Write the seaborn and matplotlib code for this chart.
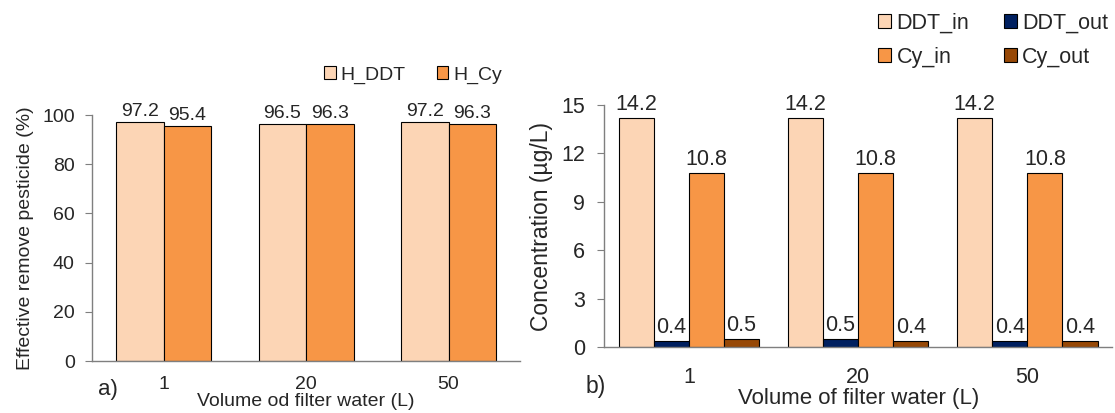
import matplotlib
matplotlib.use('Agg')
import matplotlib.pyplot as plt
import seaborn as sns
import pandas as pd

# ---- data ----
volumes = ['1', '20', '50']
h_ddt = [97.2, 96.5, 97.2]
h_cy = [95.4, 96.3, 96.3]
ddt_in = [14.2, 14.2, 14.2]
ddt_out = [0.4, 0.5, 0.4]
cy_in = [10.8, 10.8, 10.8]
cy_out = [0.5, 0.4, 0.4]
left_series = ['H_DDT', 'H_Cy']
right_series = ['DDT_in', 'DDT_out', 'Cy_in', 'Cy_out']
left_colors = ['#FCD5B5', '#F79646']
right_colors = ['#FCD5B5', '#002060', '#F79646', '#974806']

sns.set_theme(style='white')
plt.rcParams['font.family'] = ['Liberation Sans', 'DejaVu Sans']

W, H = 1115, 413
fig = plt.figure(figsize=(W / 100, H / 100), dpi=100)

def px_axes(x0, x1, ytop, ybot):
    return fig.add_axes([x0 / W, 1 - ybot / H, (x1 - x0) / W, (ybot - ytop) / H])

axa = px_axes(92.3, 519.8, 115, 361)
axb = px_axes(604.3, 1112, 105, 347.3)

spine_col = '#7F7F7F'
FA = 14     # panel a font size
FB = 15.5   # panel b font size

# ---- panel a ----
dfa = pd.DataFrame({
    'Volume': volumes * 2,
    'Value': h_ddt + h_cy,
    'Series': [left_series[0]] * 3 + [left_series[1]] * 3,
})
sns.barplot(data=dfa, x='Volume', y='Value', hue='Series', hue_order=left_series,
            palette=left_colors, width=0.667, gap=0, saturation=1,
            edgecolor='black', linewidth=0.8, errorbar=None, ax=axa)
for c in axa.containers:
    axa.bar_label(c, fmt='%.1f', padding=1.5, fontsize=FA, clip_on=False)
axa.set_xlim(-0.5, 2.5)
axa.set_ylim(0, 100)
axa.set_yticks(range(0, 101, 20))
axa.tick_params(axis='y', length=4.7, width=0.8, color=spine_col, pad=8, labelsize=FA, left=True)
axa.tick_params(axis='x', length=0, pad=11, labelsize=FA)
axa.set_xlabel('Volume od filter water (L)', fontsize=FA, labelpad=0)
axa.set_ylabel('Effective remove pesticide (%)', fontsize=FA, labelpad=6)
for s in ['top', 'right']:
    axa.spines[s].set_visible(False)
for s in ['left', 'bottom']:
    axa.spines[s].set_color(spine_col)
    axa.spines[s].set_linewidth(1)
ha, la = axa.get_legend_handles_labels()
axa.legend(ha, la, ncol=2, frameon=False, fontsize=FA, handlelength=0.6, handleheight=0.6,
           handletextpad=0.25, columnspacing=1.6, loc='center',
           bbox_to_anchor=(413 / W, 1 - 75 / H), bbox_transform=fig.transFigure)
fig.text(108 / W, 1 - 389 / H, 'a)', fontsize=FA + 2, ha='center', va='center')

# ---- panel b ----
dfb = pd.DataFrame({
    'Volume': volumes * 4,
    'Value': ddt_in + ddt_out + cy_in + cy_out,
    'Series': sum([[s] * 3 for s in right_series], []),
})
sns.barplot(data=dfb, x='Volume', y='Value', hue='Series', hue_order=right_series,
            palette=right_colors, width=0.83, gap=0, saturation=1,
            edgecolor='black', linewidth=0.8, errorbar=None, ax=axb)
for c in axb.containers:
    axb.bar_label(c, fmt='%.1f', padding=2, fontsize=FB, clip_on=False)
axb.set_xlim(-0.5, 2.5)
axb.set_ylim(0, 15)
axb.set_yticks(range(0, 16, 3))
axb.tick_params(axis='y', length=4.7, width=0.8, color=spine_col, pad=9, labelsize=FB, left=True)
axb.tick_params(axis='x', length=0, pad=14, labelsize=FB)
axb.set_xlabel('Volume of filter water (L)', fontsize=FB + 0.5, labelpad=0)
axb.set_ylabel('Concentration (µg/L)', fontsize=FB + 1, labelpad=6)
for s in ['top', 'right']:
    axb.spines[s].set_visible(False)
for s in ['left', 'bottom']:
    axb.spines[s].set_color(spine_col)
    axb.spines[s].set_linewidth(1)
hb, lb = axb.get_legend_handles_labels()
order = [0, 2, 1, 3]
axb.legend([hb[i] for i in order], [lb[i] for i in order], ncol=2, frameon=False, fontsize=FB,
           handlelength=0.6, handleheight=0.6, handletextpad=0.25, columnspacing=1.6,
           labelspacing=0.62, loc='center',
           bbox_to_anchor=(993 / W, 1 - 40 / H), bbox_transform=fig.transFigure)
fig.text(596 / W, 1 - 387 / H, 'b)', fontsize=FB + 1, ha='center', va='center')

fig.savefig('out.png', dpi=100)
